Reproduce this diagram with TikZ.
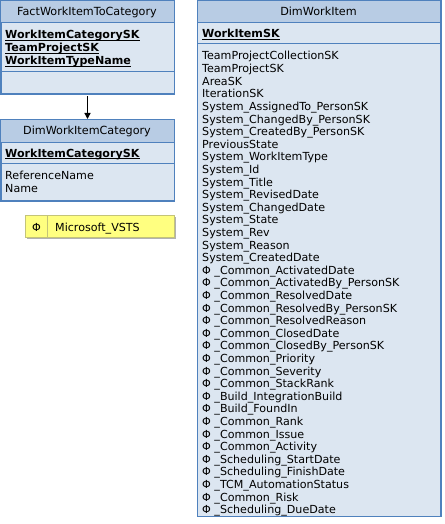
\documentclass[tikz,border=0pt]{standalone}
\usepackage{fontspec}
\setmainfont{DejaVu Sans}
\usetikzlibrary{arrows.meta}
\definecolor{hdrblue}{RGB}{184,204,228}
\definecolor{bodyblue}{RGB}{220,230,241}
\definecolor{lineblue}{RGB}{79,129,189}
\definecolor{notefill}{RGB}{255,255,128}
\definecolor{noteline}{RGB}{196,196,120}
\newcommand{\keyf}[1]{\setbox0\hbox{\textbf{#1}}\rlap{\rule[-1.8pt]{\wd0}{0.9pt}}\box0}
\newcommand{\ph}{Φ}
\tikzset{
  tbl/.style={draw=lineblue, line width=1pt, fill=bodyblue, inner sep=0pt, anchor=north west},
  sep/.style={draw=lineblue, line width=1pt},
  attr/.style={anchor=base west, inner sep=0pt, font=\fontsize{11.1}{12.6}\selectfont},
  ttl/.style={anchor=base, inner sep=0pt, font=\fontsize{11.2}{12.6}\selectfont},
}
\begin{document}
\begin{tikzpicture}[x=1pt,y=-1pt]
\useasboundingbox (0,0) rectangle (444,524);
% fact table
\node[tbl, minimum width=173pt, minimum height=93pt] (fact) at (0.5,0.5) {};
\fill[hdrblue] (0.5,0.5) rectangle (173.5,22.7);
\draw[sep] (0.5,22.7) -- (173.5,22.7);
\draw[sep] (0.5,72) -- (173.5,72);
\draw[lineblue, line width=1pt] (fact.north west) rectangle (fact.south east);
\node[ttl] (factT) at (87,16) {FactWorkItemToCategory};
\node[attr] (factK1) at (5,39) {\keyf{WorkItemCategorySK}};
\node[attr] (factK2) at (5,52) {\keyf{TeamProjectSK}};
\node[attr] (factK3) at (5,65) {\keyf{WorkItemTypeName}};
% category dimension
\node[tbl, minimum width=173pt, minimum height=81pt] (cat) at (0.5,119) {};
\fill[hdrblue] (0.5,119) rectangle (173.5,142);
\draw[sep] (0.5,142) -- (173.5,142);
\draw[sep] (0.5,163) -- (173.5,163);
\draw[lineblue, line width=1pt] (cat.north west) rectangle (cat.south east);
\node[ttl] (catT) at (87,135) {DimWorkItemCategory};
\node[attr] (catK) at (5,157) {\keyf{WorkItemCategorySK}};
\node[attr] (catA1) at (5,179) {ReferenceName};
\node[attr] (catA2) at (5,192) {Name};
\draw[line width=1.3pt, -{Triangle[length=6pt,width=6pt]}] (fact.south) ++(0,2) -- (cat.north);
% schema note
\fill[black!30] (27,217) rectangle (176,239);
\node[draw=noteline, fill=notefill, line width=0.8pt, minimum width=149pt, minimum height=22pt,
      inner sep=0pt, anchor=north west] (note) at (25,215) {};
\draw[noteline, line width=0.8pt] (47,215) -- (47,237);
\node[attr] (noteP) at (32,231) {\ph};
\node[attr] (noteT) at (55,231) {Microsoft\_VSTS};
% work item dimension
\node[tbl, minimum width=243pt, minimum height=515pt] (wi) at (197,0.5) {};
\fill[hdrblue] (197,0.5) rectangle (440,23);
\draw[sep] (197,23) -- (440,23);
\draw[sep] (197,44) -- (440,44);
\draw[lineblue, line width=1pt] (wi.north west) rectangle (wi.south east);
\node[ttl] (wiT) at (318.5,16) {DimWorkItem};
\node[attr] (wiK) at (202,38) {\keyf{WorkItemSK}};
\foreach \f [count=\i] in {TeamProjectCollectionSK, TeamProjectSK, AreaSK, IterationSK,
    System\_AssignedTo\_PersonSK, System\_ChangedBy\_PersonSK, System\_CreatedBy\_PersonSK,
    PreviousState, System\_WorkItemType, System\_Id, System\_Title, System\_RevisedDate,
    System\_ChangedDate, System\_State, System\_Rev, System\_Reason, System\_CreatedDate,
    \ph\ \_Common\_ActivatedDate, \ph\ \_Common\_ActivatedBy\_PersonSK,
    \ph\ \_Common\_ResolvedDate, \ph\ \_Common\_ResolvedBy\_PersonSK,
    \ph\ \_Common\_ResolvedReason, \ph\ \_Common\_ClosedDate,
    \ph\ \_Common\_ClosedBy\_PersonSK, \ph\ \_Common\_Priority, \ph\ \_Common\_Severity,
    \ph\ \_Common\_StackRank, \ph\ \_Build\_IntegrationBuild, \ph\ \_Build\_FoundIn,
    \ph\ \_Common\_Rank, \ph\ \_Common\_Issue, \ph\ \_Common\_Activity,
    \ph\ \_Scheduling\_StartDate, \ph\ \_Scheduling\_FinishDate,
    \ph\ \_TCM\_AutomationStatus, \ph\ \_Common\_Risk, \ph\ \_Scheduling\_DueDate}
  \node[attr] (wiA\i) at (202,{60+12.6*(\i-1)}) {\f};
\end{tikzpicture}
\end{document}
